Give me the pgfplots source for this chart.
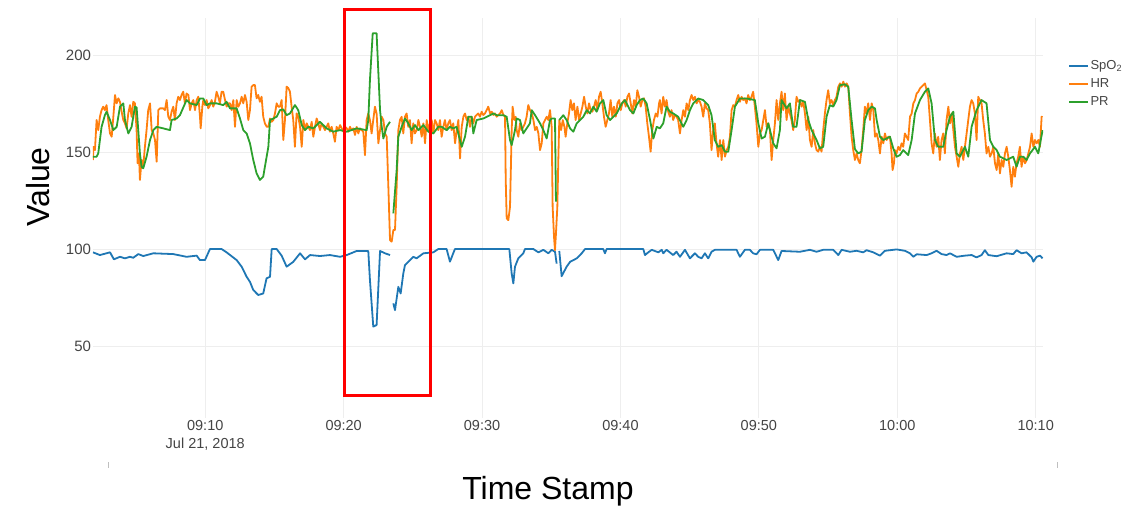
\documentclass[border=0pt]{standalone}
\usepackage{pgfplots}
\pgfplotsset{compat=1.18}
\usepackage{fontspec}
\setmainfont{Liberation Sans}
\definecolor{spo}{HTML}{1F77B4}
\definecolor{hr}{HTML}{FF7F0E}
\definecolor{pr}{HTML}{2CA02C}
\definecolor{gridc}{HTML}{EEEEEE}
\definecolor{ticktext}{HTML}{444444}

\begin{document}
\begin{tikzpicture}
\useasboundingbox (-93pt,-94pt) rectangle (1034pt,418pt);
\begin{axis}[
  at={(0pt,0pt)}, anchor=south west,
  scale only axis, width=950pt, height=400pt,
  xmin=1.89, xmax=70.53, ymin=12.9, ymax=219.1,
  axis line style={draw=none},
  major tick length=0pt,
  grid=major, grid style={gridc, line width=1pt},
  xtick={10,20,30,40,50,60,70},
  xticklabels={{09:10\\Jul 21, 2018},09:20,09:30,09:40,09:50,10:00,10:10},
  ytick={50,100,150,200},
  xticklabel style={align=center, font=\fontsize{14.5}{18}\selectfont, text=ticktext, yshift=1pt},
  yticklabel style={font=\fontsize{15}{17}\selectfont, text=ticktext, xshift=1.5pt},
  /pgf/number format/assume math mode=true,
  clip mode=individual,
  unbounded coords=jump,
  every axis plot/.append style={line width=1.8pt, line join=round, mark=none},
  legend image code/.code={\draw[#1, line width=1.8pt] (0pt,0pt) -- (19pt,0pt);},
  legend style={draw=none, fill=none, at={(1.0263,0.9)}, anchor=north west,
    font=\fontsize{13}{15}\selectfont, text=ticktext, inner sep=0pt, row sep=2pt,
    nodes={inner sep=1.5pt, text height=10pt, text depth=3pt}},
  legend cell align=left,
]

% SpO2
\addplot[spo] coordinates {
(1.89,98.3) (2.39,96.9) (3.12,98.3) (3.40,94.7) (3.84,96.0) (4.20,95.2) (4.56,96.0) (4.80,95.5)
(5.16,97.4) (5.52,96.4) (6.25,97.8) (7.69,97.4) (8.65,96.0) (9.38,96.6) (9.62,94.3) (9.98,94.3)
(10.34,100) (11.18,100) (11.54,98.3) (12.27,94.3) (12.63,90.9) (12.99,85.7) (13.23,83.1) (13.47,78.9)
(13.83,76.3) (14.19,77.1) (14.43,84.9) (14.68,85.7) (14.80,100) (15.16,100) (15.52,96.6) (15.88,90.9)
(16.36,93.4) (16.85,97.8) (17.21,94.7) (17.57,96.9) (18.29,96.4) (19.01,96.9) (19.74,96.0) (20.22,96.9)
(20.94,99.0) (21.78,99.0) (21.90,84.0) (22.14,60.0) (22.38,60.8) (22.63,99.0) (22.99,97.8) (23.35,96.9)
(23.47,nan)
(23.59,72.0) (23.71,68.5) (23.95,80.5) (24.12,77.1) (24.31,87.4) (24.43,91.7) (24.79,94.3) (25.03,96.0)
(25.27,95.2) (25.76,97.8) (26.48,98.3) (26.84,100) (27.44,100) (27.68,93.5) (28.04,100) (31.97,100)
(32.14,87.4) (32.26,82.3) (32.38,90.9) (32.62,95.2) (32.98,97.8) (33.10,100) (33.71,100) (34.07,98.3)
(34.43,99.6) (34.79,97.8) (35.03,99.6) (35.27,98.6) (35.39,92.5)
(35.46,nan)
(35.58,99.0) (35.75,86.0) (36.11,90.9) (36.36,93.4) (36.84,95.2) (37.20,97.8) (37.44,100)
(38.76,100) (38.88,97.8) (39.00,100) (41.65,100) (41.77,96.9) (42.01,98.3) (42.26,99.6) (42.74,98.3)
(42.98,99.6) (43.09,97.8) (43.33,99.6) (43.81,96.9) (44.05,98.6) (44.30,96.0) (44.66,99.6) (45.02,95.2)
(45.38,97.8) (45.62,96.0) (45.86,95.2) (46.10,97.8) (46.34,95.2) (46.58,98.6) (46.82,99.6) (48.39,99.6)
(48.63,96.0) (48.99,99.6) (49.35,99.6) (49.59,97.8) (49.83,97.3) (50.08,99.6) (51.04,99.6) (51.40,94.3)
(51.64,99.0) (52.97,98.6) (53.69,99.6) (54.17,98.6) (54.65,99.6) (55.37,99.6) (55.74,96.9) (55.98,99.6)
(56.58,98.6) (57.06,99.1) (57.54,98.3) (57.78,99.4) (58.27,98.3) (58.75,96.6) (59.11,99.1) (59.95,99.8)
(60.55,99.1) (60.92,97.8) (61.16,96.0) (61.40,97.3) (62.12,96.9) (62.48,97.8) (62.84,99.1) (63.20,97.4)
(63.56,96.9) (63.81,97.8) (64.29,96.0) (64.89,96.6) (65.37,96.9) (65.73,95.7) (66.09,96.9) (66.33,99.4)
(66.58,96.9) (67.18,96.3) (67.90,97.8) (68.38,97.4) (68.62,99.4) (68.98,97.8) (69.34,98.3) (69.71,95.7)
(69.83,93.5) (70.07,96.0) (70.31,96.6) (70.50,95.2)
};
\addlegendentry{SpO\textsubscript{2}}

% HR
\addplot[hr] coordinates {
(1.89,145.9) (1.91,152.7) (2.03,151.0) (2.15,166.5) (2.27,161.3) (2.39,168.2) (2.51,171.6) (2.63,173.4)
(2.75,171.6) (2.87,174.2) (2.99,166.5) (3.12,159.6) (3.24,157.9) (3.36,168.2) (3.48,179.4) (3.60,175.1)
(3.72,177.7) (3.84,175.9) (3.96,170.8) (4.08,166.5) (4.20,164.8) (4.32,162.2) (4.44,169.9) (4.56,174.2)
(4.68,168.2) (4.80,175.9) (4.92,175.1) (5.04,161.3) (5.11,144.2) (5.21,149.3) (5.28,135.6) (5.40,145.9)
(5.52,142.4) (5.64,152.7) (5.76,161.3) (5.88,171.6) (6.01,175.1) (6.13,161.3) (6.25,159.6) (6.37,156.2)
(6.49,145.0) (6.61,171.6) (6.73,172.5) (6.97,172.5) (7.09,171.6) (7.21,176.8) (7.33,168.2) (7.45,166.5)
(7.57,170.8) (7.69,173.4) (7.81,166.5) (7.93,175.1) (8.05,178.5) (8.17,176.8) (8.29,179.4) (8.41,181.1)
(8.53,175.1) (8.65,180.2) (8.78,179.4) (8.90,171.6) (9.02,175.1) (9.14,176.8) (9.26,171.6) (9.38,176.8)
(9.50,178.5) (9.62,168.2) (9.67,162.2) (9.79,173.4) (9.86,176.8) (9.98,174.2) (10.10,176.8) (10.22,172.5)
(10.34,174.2) (10.46,176.8) (10.58,173.4) (10.70,175.9) (10.82,181.1) (10.94,178.5) (11.06,175.1) (11.18,181.1)
(11.30,181.1) (11.43,176.8) (11.55,173.4) (11.67,175.1) (11.79,175.1) (11.91,171.6) (12.03,176.8) (12.15,163.0)
(12.27,176.8) (12.39,173.4) (12.51,175.1) (12.63,178.5) (12.75,175.1) (12.87,179.4) (12.99,175.9) (13.11,166.5)
(13.23,171.6) (13.35,183.7) (13.47,184.5) (13.59,184.5) (13.71,177.7) (13.83,179.4) (13.95,175.9) (14.07,178.5)
(14.19,168.2) (14.31,164.8) (14.44,163.0) (14.56,163.0) (14.68,167.3) (14.80,165.6) (14.92,166.5) (15.04,169.9)
(15.16,175.1) (15.28,173.4) (15.40,173.4) (15.52,176.8) (15.64,156.2) (15.76,166.5)
(15.88,183.7) (16.00,183.0) (16.12,181.1) (16.24,173.4) (16.36,166.5) (16.48,152.7) (16.60,169.9) (16.72,168.2)
(16.85,163.0) (16.97,152.7) (17.09,166.5) (17.21,161.3) (17.33,164.8) (17.45,163.0) (17.57,161.3) (17.69,165.6)
(17.81,157.9) (17.93,163.0) (18.05,167.3) (18.17,164.8) (18.29,161.3) (18.41,164.8) (18.53,163.0) (18.65,161.3)
(18.77,163.0) (18.89,164.8) (19.01,160.5) (19.13,163.0) (19.25,159.6) (19.37,155.3) (19.49,163.0) (19.62,161.3)
(19.74,163.9) (19.86,162.2) (19.98,160.5) (20.10,163.0) (20.22,162.2) (20.34,160.5) (20.46,163.0) (20.58,161.3)
(20.70,162.2) (20.82,158.8) (20.94,163.0) (21.06,159.6) (21.18,162.2) (21.30,161.3) (21.42,160.5) (21.54,148.4)
(21.66,166.5) (21.78,169.9) (21.90,166.5) (22.02,159.6) (22.14,166.5) (22.26,173.4) (22.38,169.9) (22.51,154.5)
(22.63,161.3) (22.75,168.2) (22.87,166.5) (22.99,159.6) (23.11,157.9) (23.23,132.1) (23.35,104.6) (23.47,103.8)
(23.59,109.8) (23.71,109.8) (23.83,132.1) (23.95,161.3) (24.07,166.5) (24.19,168.2) (24.31,159.6) (24.43,168.2)
(24.55,169.9) (24.67,163.0) (24.79,166.5) (24.91,154.5) (25.03,164.8) (25.15,159.6) (25.28,161.3) (25.40,166.5)
(25.52,163.0) (25.64,157.9) (25.76,164.8) (25.88,154.5) (26.00,166.5) (26.12,161.3) (26.24,164.8) (26.36,166.5)
(26.48,159.6) (26.60,166.5) (26.72,164.8) (26.84,161.3) (26.96,166.5) (27.08,157.9) (27.20,163.0) (27.32,166.5)
(27.44,161.3) (27.56,164.8) (27.68,166.5) (27.80,161.3) (27.92,164.8) (28.05,154.5) (28.17,161.3) (28.29,166.5)
(28.41,146.7) (28.53,163.0) (28.65,168.2) (28.77,169.9) (28.89,166.5) (29.01,168.2) (29.13,163.0) (29.25,168.2)
(29.37,164.8) (29.49,168.2)
(29.61,169.1) (29.73,169.9) (29.85,168.2) (29.97,170.8) (30.09,169.1) (30.21,169.9) (30.33,171.6) (30.45,173.4)
(30.58,169.9) (30.70,170.8) (30.82,169.1) (30.94,169.9) (31.06,168.2) (31.18,169.1) (31.30,169.9) (31.42,171.6)
(31.54,169.1) (31.66,168.2) (31.71,135.6) (31.78,115.8) (31.90,114.9) (32.02,121.8) (32.09,144.2) (32.14,161.3)
(32.21,173.4) (32.33,166.5) (32.43,168.2) (32.50,161.3) (32.62,157.9) (32.74,164.8) (32.86,161.3) (32.98,163.0)
(33.10,164.8) (33.22,168.2) (33.34,174.2) (33.46,171.6) (33.59,169.9) (33.71,166.5) (33.83,161.3) (33.95,163.0)
(34.07,159.6) (34.19,151.0) (34.31,154.5) (34.43,164.8) (34.55,166.5) (34.67,168.2) (34.79,166.5) (34.91,171.6)
(35.03,163.0) (35.10,121.8) (35.20,106.3) (35.27,99.4) (35.34,108.0) (35.44,121.8) (35.51,145.9) (35.58,166.5)
(35.71,161.3) (35.83,166.5) (35.95,163.0) (36.04,157.9) (36.16,164.8) (36.28,169.9) (36.40,176.8) (36.52,171.6)
(36.64,175.1) (36.76,166.5) (36.89,173.4) (37.01,166.5) (37.13,169.9) (37.25,173.4) (37.37,178.5) (37.49,173.4)
(37.61,169.9) (37.73,175.1) (37.85,171.6) (37.97,170.8) (38.09,173.4) (38.21,176.8) (38.33,171.6) (38.45,178.5)
(38.57,181.1) (38.69,175.1) (38.81,168.2) (38.93,163.0) (39.05,166.5) (39.17,169.9) (39.29,176.8) (39.41,168.2)
(39.53,173.4) (39.66,168.2) (39.78,175.1) (39.90,176.8) (40.02,171.6) (40.14,175.1) (40.26,176.8) (40.38,173.4)
(40.50,178.5) (40.62,180.2) (40.74,175.1) (40.86,169.9) (40.98,176.8) (41.10,173.4) (41.22,181.9) (41.34,178.5)
(41.46,173.4) (41.58,176.8) (41.70,177.7) (41.82,173.4) (41.94,164.8) (42.06,157.9) (42.18,150.2) (42.30,161.3)
(42.42,166.5) (42.55,169.9) (42.67,168.2) (42.79,175.1)
(42.85,176.8) (42.97,169.9) (43.09,178.5) (43.21,173.4) (43.33,176.8) (43.45,170.8) (43.57,168.2) (43.69,171.6)
(43.81,166.5) (43.93,169.1) (44.05,168.2) (44.17,166.5) (44.30,159.6) (44.42,166.5) (44.54,171.6) (44.66,168.2)
(44.78,175.1) (44.90,171.6) (45.02,176.8) (45.14,179.4) (45.26,176.8) (45.38,178.5) (45.50,175.1) (45.62,176.8)
(45.74,175.9) (45.86,173.4) (45.98,168.2) (46.10,175.1) (46.22,172.5) (46.34,171.6) (46.46,164.8) (46.58,151.0)
(46.70,161.3) (46.82,164.8) (46.94,154.5) (47.06,147.6) (47.19,156.2) (47.31,145.9) (47.43,156.2) (47.55,147.6)
(47.67,151.0) (47.79,152.7) (47.91,157.9) (48.03,171.6) (48.15,174.2) (48.27,173.4) (48.39,176.8) (48.51,179.4)
(48.63,175.9) (48.75,178.5) (48.87,176.8) (48.99,177.7) (49.11,175.1) (49.23,179.4) (49.35,176.8) (49.47,178.5)
(49.59,181.1) (49.71,173.4) (49.83,164.8) (49.96,152.7) (50.08,159.6) (50.20,161.3) (50.32,166.5) (50.44,171.6)
(50.56,163.0) (50.68,164.8) (50.80,161.3) (50.92,145.9) (51.04,156.2) (51.16,164.8) (51.28,176.8) (51.40,166.5)
(51.52,175.1) (51.64,181.1) (51.76,171.6) (51.88,180.2) (52.00,166.5) (52.12,173.4) (52.24,169.9) (52.36,166.5)
(52.48,161.3) (52.60,166.5) (52.72,178.5) (52.85,175.9) (52.97,176.8) (53.09,173.4) (53.21,175.9) (53.33,169.9)
(53.45,161.3) (53.57,168.2) (53.69,156.2) (53.81,152.7) (53.93,161.3) (54.05,154.5) (54.17,151.0) (54.29,150.2)
(54.41,152.7) (54.53,150.2) (54.65,161.3) (54.77,169.9) (54.89,176.8) (55.01,181.9) (55.13,175.1) (55.25,176.8)
(55.37,174.2) (55.49,176.8) (55.61,178.5) (55.74,183.7) (55.86,185.4) (55.98,183.7) (56.10,186.3) (56.22,183.7)
(56.34,185.4) (56.46,183.7) (56.58,169.9) (56.70,157.9) (56.82,151.0)
(56.94,145.9) (57.06,149.3) (57.18,145.9) (57.30,144.2) (57.42,151.0) (57.54,161.3) (57.66,173.4) (57.78,169.9)
(57.90,175.1) (58.03,166.5) (58.15,175.1) (58.27,171.6) (58.39,157.9) (58.51,159.6) (58.63,156.2) (58.75,149.3)
(58.87,157.9) (58.99,154.5) (59.11,159.6) (59.23,156.2) (59.35,157.9) (59.47,157.9) (59.59,149.3) (59.66,140.7)
(59.76,144.2) (59.83,151.0) (59.95,149.3) (60.07,152.7) (60.19,151.0) (60.31,154.5) (60.43,152.7) (60.55,159.6)
(60.67,157.9) (60.79,156.2) (60.92,168.2) (61.04,169.9) (61.16,175.1) (61.28,176.8) (61.40,180.2) (61.52,181.1)
(61.64,182.8) (61.76,183.7) (61.88,184.5) (62.00,185.4) (62.12,181.9) (62.24,178.5) (62.36,166.5) (62.48,154.5)
(62.60,149.3) (62.72,159.6) (62.84,152.7) (62.96,157.9) (63.08,145.9) (63.20,156.2) (63.32,159.6) (63.44,149.3)
(63.56,166.5) (63.69,173.4) (63.81,164.8) (63.93,169.9) (64.05,161.3) (64.17,152.7) (64.29,147.6) (64.41,142.4)
(64.53,149.3) (64.65,152.7) (64.77,145.9) (64.89,152.7) (65.01,159.6) (65.13,166.5) (65.25,173.4) (65.37,176.8)
(65.49,175.1) (65.61,169.9) (65.73,156.2) (65.85,178.5) (65.97,176.8) (66.09,175.1) (66.21,166.5) (66.33,159.6)
(66.45,149.3) (66.58,152.7) (66.70,147.6) (66.82,149.3) (66.94,152.7) (67.06,144.2) (67.18,140.7) (67.30,149.3)
(67.42,139.0) (67.54,145.9) (67.66,142.4) (67.78,149.3) (67.90,152.7) (68.02,147.6) (68.14,140.7) (68.26,132.1)
(68.38,142.4) (68.50,137.3) (68.62,144.2) (68.74,147.6) (68.86,152.7) (68.98,142.4) (69.10,147.6) (69.23,144.2)
(69.35,145.9) (69.47,149.3) (69.59,152.7) (69.71,159.6) (69.83,152.7) (69.95,156.2) (70.07,154.5) (70.19,156.2)
(70.31,152.7) (70.43,168.2) (70.50,168.0)
};
\addlegendentry{HR}

% PR
\addplot[pr] coordinates {
(1.89,147.6) (2.15,147.6) (2.27,149.3) (2.51,163.0) (2.75,169.0) (2.87,170.8) (3.12,166.5) (3.36,161.3)
(3.60,163.0) (3.84,173.4) (4.08,175.1) (4.20,166.5) (4.44,159.6) (4.68,163.0) (4.92,173.4) (5.04,173.0)
(5.16,161.3) (5.28,149.3) (5.40,142.4) (5.52,141.6) (5.76,147.6) (6.01,156.2) (6.25,161.3) (6.49,163.0)
(6.97,162.2) (7.45,161.3) (7.57,166.5) (7.93,167.3) (8.17,169.0) (8.65,176.8) (8.90,175.1) (9.38,174.2)
(9.62,177.6) (9.86,177.6) (10.10,174.2) (10.34,175.1) (10.82,175.1) (11.30,174.2) (11.54,175.9) (11.79,172.5)
(12.27,172.5) (12.51,167.3) (12.75,161.3) (12.99,159.6) (13.23,154.5) (13.47,145.9) (13.71,139.0) (13.95,135.6)
(14.19,137.3) (14.31,142.4) (14.56,152.7) (14.68,166.5) (14.92,167.3) (15.16,168.2) (15.40,171.6) (15.64,172.0)
(15.88,169.0) (16.12,169.9) (16.48,174.2) (16.72,171.6) (16.97,163.9) (17.21,161.3) (17.45,163.0) (17.81,162.2)
(18.29,165.6) (18.77,162.2) (19.25,160.5) (19.74,161.3) (20.22,160.5) (20.94,162.2) (21.66,161.3) (21.78,166.5)
(21.90,187.1) (22.10,211.2) (22.38,211.2) (22.50,192.3) (22.63,171.6) (22.75,163.0) (22.87,157.0) (23.11,163.0)
(23.35,165.6)
(23.47,nan)
(23.59,118.4) (23.83,140.7) (23.95,157.9) (24.19,163.0) (24.43,167.3) (24.67,164.8) (24.91,161.3) (25.15,163.9)
(25.40,161.3) (25.76,163.9) (26.12,160.5) (26.48,159.6) (26.84,163.0) (27.08,163.0) (27.44,161.3) (27.68,163.0)
(27.92,162.2) (28.16,163.0) (28.53,152.7) (28.77,157.9) (29.01,168.2) (29.25,168.2) (29.37,159.6) (29.61,166.5)
(30.09,167.3) (30.58,169.0) (30.82,169.9) (31.06,169.0) (31.54,169.0) (31.78,168.2) (32.02,156.2) (32.14,153.6)
(32.38,161.3) (32.50,167.3) (32.74,166.5) (32.98,159.6) (33.22,162.2) (33.46,164.8) (33.59,171.6) (33.83,169.0)
(34.19,164.8) (34.43,161.3) (34.67,157.0) (34.91,166.5) (35.03,167.3) (35.27,167.3) (35.34,124.4)
(35.46,nan)
(35.58,166.5) (35.87,169.0) (36.11,166.5) (36.36,162.2) (36.60,160.5) (36.84,164.8) (37.08,166.5) (37.32,168.2)
(37.56,171.6) (37.80,169.9) (38.04,173.4) (38.28,170.8) (38.52,175.1) (38.76,176.8) (39.00,169.0) (39.25,166.5)
(39.49,168.2) (39.73,169.9) (40.09,175.1) (40.33,176.8) (40.69,171.6) (40.93,169.9) (41.17,174.2) (41.41,176.8)
(41.65,177.6) (41.89,175.1) (42.14,166.5) (42.38,157.0) (42.62,163.0) (42.85,162.2) (43.09,164.8) (43.33,173.4)
(43.57,170.8) (43.81,169.9) (44.17,168.2) (44.54,163.0) (44.78,166.5) (45.02,171.6) (45.26,175.1) (45.62,177.6)
(45.98,176.8) (46.34,174.2) (46.58,169.0) (46.82,156.2) (47.06,152.7) (47.31,153.6) (47.55,150.2) (47.79,150.2)
(48.03,161.3) (48.27,173.4) (48.63,177.6) (49.11,177.6) (49.71,176.8) (49.96,164.8) (50.20,157.0) (50.44,157.9)
(50.68,164.8) (51.04,154.5) (51.28,151.9) (51.52,161.3) (51.64,176.8) (52.00,172.5) (52.24,175.1) (52.48,163.0)
(52.72,163.0) (52.97,176.8) (53.33,175.9) (53.57,166.5) (53.81,161.3) (54.17,156.2) (54.41,151.9) (54.65,152.7)
(54.89,168.2) (55.13,174.2) (55.37,173.4) (55.61,176.8) (55.86,184.5) (56.22,184.9) (56.46,183.6) (56.70,166.5)
(56.94,151.5) (57.18,149.3) (57.42,150.2) (57.66,166.5) (57.90,171.6) (58.15,173.4) (58.39,172.5) (58.51,166.5)
(58.75,157.9) (58.99,156.2) (59.23,157.0) (59.47,157.9) (59.71,151.9) (59.95,147.6) (60.19,148.4) (60.43,151.0)
(60.79,148.4) (61.04,156.2) (61.28,169.9) (61.64,176.8) (62.00,181.1) (62.24,182.8) (62.48,175.1) (62.72,156.2)
(62.96,152.7) (63.32,152.7) (63.56,161.3) (63.81,168.2) (64.05,170.8) (64.29,149.3) (64.53,147.6) (64.89,152.7)
(65.13,147.6) (65.37,163.0) (65.73,171.6) (66.09,176.8) (66.45,175.1) (66.70,156.2) (66.94,152.7) (67.18,151.0)
(67.42,147.6) (67.90,145.9) (68.38,147.6) (68.62,142.4) (68.86,147.6) (69.10,147.6) (69.34,145.9) (69.59,149.3)
(69.95,152.7) (70.19,149.3) (70.50,161.3)
};
\addlegendentry{PR}

% highlighted interval
\draw[red, line width=3pt] (axis cs:20.09,24.5) rectangle (axis cs:26.31,223.7);
\end{axis}

% axis titles
\node[rotate=90, font=\fontsize{32}{38}\selectfont] at (-55pt,231pt) {Value};
\node[font=\fontsize{32}{38}\selectfont] at (455pt,-73pt) {Time Stamp};
% small marks at the ends of the time axis
\draw[black!25, line width=0.8pt] (15pt,-44pt) -- (15pt,-50pt);
\draw[black!25, line width=0.8pt] (964pt,-44pt) -- (964pt,-50pt);
\end{tikzpicture}
\end{document}
